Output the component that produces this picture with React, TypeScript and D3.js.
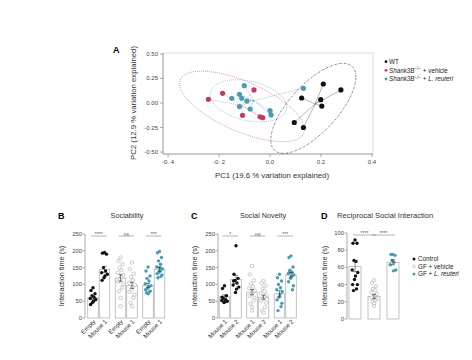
import React from "react";
import * as d3 from "d3";

// ---------- Panel A data (PCA) ----------
const wtPC1 = [0.209, 0.278, 0.124, 0.199, 0.203, 0.095, 0.131];
const wtPC2 = [0.194, 0.133, 0.051, 0.034, -0.031, -0.199, -0.25];
const vehPC1 = [-0.242, -0.186, -0.063, -0.108, -0.039, -0.029];
const vehPC2 = [0.038, 0.099, 0.133, -0.126, -0.14, -0.15];
const reuPC1 = [-0.101, -0.15, -0.12, -0.111, -0.091, -0.12, -0.078, 0.0, 0.004, 0.131];
const reuPC2 = [0.177, 0.048, 0.089, 0.048, 0.02, -0.036, -0.061, -0.077, -0.122, 0.15];
// ellipse params: [cx, cy, halfX, halfY, corr]
const wtEllipse = [0.17, -0.054, 0.167, 0.459, 0.7];
const vehEllipse = [-0.11, -0.035, 0.245, 0.36, -0.65];
const reuEllipse = [-0.085, 0.022, 0.15, 0.215, -0.3];
const pcXTicks = [-0.4, -0.2, 0.0, 0.2, 0.4];
const pcXTickLabels = ["-0. 4", "-0. 2", "0.0", "0.2", "0.4"];
const pcYTicks = [0.5, 0.25, 0, -0.25, -0.5];
const pcYTickLabels = ["0.50", "0.25", "0.00", "-0.25", "-0.50"];

// ---------- Panel B data (Sociability) ----------
const sociabilityLabels = ["Empty", "Mouse 1", "Empty", "Mouse 1", "Empty", "Mouse 1"];
const sociabilityMeans = [60, 145, 119, 97, 97, 145];
const sociabilitySEM = [5, 9, 10, 9, 6, 6];
const socWTEmpty = [90, 82, 72, 66, 62, 58, 55, 50, 46, 40];
const socWTMouse = [195, 193, 190, 150, 140, 135, 130, 125, 120, 112];
const socVehEmpty = [180, 170, 160, 150, 142, 135, 128, 122, 115, 108, 100, 90, 80, 60, 35];
const socVehMouse = [165, 145, 132, 122, 112, 105, 98, 92, 85, 78, 70, 60, 45, 35];
const socReuEmpty = [152, 140, 125, 118, 110, 102, 96, 92, 88, 84, 80, 78, 75, 72];
const socReuMouse = [198, 194, 180, 170, 160, 152, 146, 140, 136, 132, 128, 124, 120, 150];
const sociabilitySig = ["****", "ns", "***"];

// ---------- Panel C data (Social Novelty) ----------
const noveltyLabels = ["Mouse 1", "Mouse 2", "Mouse 1", "Mouse 2", "Mouse 1", "Mouse 2"];
const noveltyMeans = [63, 115, 77, 62, 72, 128];
const noveltySEM = [6, 12, 8, 6, 9, 7];
const novWTM1 = [96, 88, 66, 58, 55, 52, 50, 48, 46, 62];
const novWTM2 = [215, 130, 118, 112, 104, 98, 92, 86, 76, 110];
const novVehM1 = [155, 130, 112, 102, 94, 88, 82, 78, 72, 66, 60, 52, 42, 32, 22];
const novVehM2 = [110, 104, 96, 88, 80, 74, 68, 62, 57, 52, 46, 32, 22, 16];
const novReuM1 = [130, 120, 110, 100, 90, 84, 78, 70, 62, 54, 44, 34, 22];
const novReuM2 = [185, 180, 152, 142, 136, 132, 128, 124, 118, 108, 96, 84, 138];
const noveltySig = ["*", "ns", "***"];

// ---------- Panel D data (Reciprocal Social Interaction) ----------
const rsiLabels = ["Control", "GF + vehicle", "GF + L. reuteri"];
const rsiMeans = [61, 26, 66];
const rsiSEM = [6, 2.5, 3];
const rsiControl = [92, 88, 88, 68, 67, 57, 54, 50, 46, 40, 40, 35, 33];
const rsiVehicle = [45, 42, 38, 35, 33, 31, 29, 27, 26, 25, 23, 22, 20, 18, 15];
const rsiReuteri = [75, 75, 74, 68, 66, 63, 57, 56];
const rsiSig = ["****", "****"];

const PINK = "#c23b62";
const TEAL = "#4a9db2";
const FONT = "Liberation Sans, Arial, sans-serif";
const AXIS = "#888";

function jitter(i: number) {
  const pattern = [0, -2, 2, -1, 1, -2.8, 2.8, 0.5, -0.5, -2.4, 2.4, 1.5, -1.5, 0.2];
  return pattern[i % pattern.length];
}

function ellipsePath(p: number[], xs: any, ys: any) {
  const [cx, cy, ax, ay, r] = p;
  const pts: [number, number][] = d3.range(0, 361, 3).map((deg) => {
    const t = (deg * Math.PI) / 180;
    const x = cx + ax * Math.cos(t);
    const y = cy + ay * (r * Math.cos(t) + Math.sqrt(1 - r * r) * Math.sin(t));
    return [xs(x), ys(y)];
  });
  return d3.line()(pts) || "";
}

function PanelA() {
  const xs = d3.scaleLinear().domain([-0.42, 0.404]).range([163, 373]);
  const ys = d3.scaleLinear().domain([-0.52, 0.51]).range([154, 53]);
  const groups = [
    { xsv: vehPC1, ysv: vehPC2, color: PINK, ell: vehEllipse, dash: "1,1", spider: PINK, sdash: "1,1" },
    { xsv: reuPC1, ysv: reuPC2, color: TEAL, ell: reuEllipse, dash: "1,1", spider: TEAL, sdash: "1.5,1" },
    { xsv: wtPC1, ysv: wtPC2, color: "#111", ell: wtEllipse, dash: "2,1,0.6,1", spider: "#555", sdash: "" },
  ];
  return (
    <g fontFamily={FONT}>
      <text x={113} y={53} fontSize={9} fontWeight="bold">A</text>
      <rect x={163} y={53} width={210} height={101} fill="none" stroke="#d4d4d4" strokeWidth={0.8} />
      <line x1={163} x2={163} y1={53} y2={154} stroke={AXIS} strokeWidth={0.7} />
      <line x1={163} x2={373} y1={154} y2={154} stroke={AXIS} strokeWidth={0.7} />
      {pcYTicks.map((t, i) => (
        <g key={"y" + i}>
          <line x1={160} x2={163} y1={ys(t)} y2={ys(t)} stroke={AXIS} strokeWidth={0.7} />
          <text x={158} y={ys(t) + 2} fontSize={6} textAnchor="end" fill="#444">{pcYTickLabels[i]}</text>
        </g>
      ))}
      {pcXTicks.map((t, i) => (
        <g key={"x" + i}>
          <line x1={xs(t)} x2={xs(t)} y1={154} y2={157} stroke={AXIS} strokeWidth={0.7} />
          <text x={xs(t)} y={164} fontSize={6} textAnchor="middle" fill="#444">{pcXTickLabels[i]}</text>
        </g>
      ))}
      <text x={272} y={178} fontSize={7.8} textAnchor="middle" fill="#333">PC1 (19.6 % variation explained)</text>
      <text transform="translate(136,103) rotate(-90)" fontSize={7.8} textAnchor="middle" fill="#333">PC2 (12.9 % variation explained)</text>
      {groups.map((g, gi) => {
        const mx = d3.mean(g.xsv) as number;
        const my = d3.mean(g.ysv) as number;
        return (
          <g key={gi}>
            <path d={ellipsePath(g.ell, xs, ys)} fill="none" stroke={g.color} strokeOpacity={0.75} strokeWidth={0.7} strokeDasharray={g.dash} />
            {g.xsv.map((v, i) => (
              <line key={"s" + i} x1={xs(mx)} y1={ys(my)} x2={xs(v)} y2={ys(g.ysv[i])} stroke={g.spider} strokeOpacity={0.7} strokeWidth={0.6} strokeDasharray={g.sdash} />
            ))}
          </g>
        );
      })}
      {groups.map((g, gi) => (
        <g key={"p" + gi}>
          {g.xsv.map((v, i) => (
            <circle key={i} cx={xs(v)} cy={ys(g.ysv[i])} r={2.6} fill={g.color} />
          ))}
        </g>
      ))}
      <g fontSize={6.3} fill="#222">
        <circle cx={386} cy={61.7} r={1.4} fill="#111" />
        <text x={389} y={64}>WT</text>
        <circle cx={386} cy={70.3} r={1.4} fill={PINK} />
        <text x={389} y={72.6}>
          <tspan fontStyle="italic">Shank3B</tspan>
          <tspan dy={-2.2} fontSize={4.5}>−/−</tspan>
          <tspan dy={2.2}> + vehicle</tspan>
        </text>
        <circle cx={386} cy={79} r={1.4} fill={TEAL} />
        <text x={389} y={81.3}>
          <tspan fontStyle="italic">Shank3B</tspan>
          <tspan dy={-2.2} fontSize={4.5}>−/−</tspan>
          <tspan dy={2.2}> + </tspan>
          <tspan fontStyle="italic">L. reuteri</tspan>
        </text>
      </g>
    </g>
  );
}

type Series = { values: number[]; kind: "black" | "open" | "teal" };

function dot(kind: string, cx: number, cy: number, key: any, r = 1.7) {
  if (kind === "open")
    return <circle key={key} cx={cx} cy={cy} r={r} fill="#fff" stroke="#999" strokeWidth={0.5} />;
  return <circle key={key} cx={cx} cy={cy} r={r} fill={kind === "black" ? "#111" : TEAL} />;
}

function BarPanel(props: {
  letter: string; title: string; titleX: number; titleAnchor: string; letterX: number;
  axisX: number; centers: number[]; barW: number; yMax: number; yTicks: number[];
  y0: number; yTop: number; means: number[]; sems: number[]; series: Series[];
  labels: string[]; sig: string[]; sigPairs: [number, number][]; ylabelX: number; rotateLabels: boolean;
  titleSize: number;
}) {
  const p = props;
  const ys = d3.scaleLinear().domain([0, p.yMax]).range([p.y0, p.yTop]);
  return (
    <g fontFamily={FONT}>
      <text x={p.letterX} y={219} fontSize={9} fontWeight="bold">{p.letter}</text>
      <text x={p.titleX} y={218} fontSize={p.titleSize} textAnchor={p.titleAnchor as any} fill="#333">{p.title}</text>
      <text transform={`translate(${p.ylabelX},${(p.y0 + p.yTop) / 2}) rotate(-90)`} fontSize={7.3} textAnchor="middle" fill="#333">Interaction time (s)</text>
      <line x1={p.axisX} x2={p.axisX} y1={p.y0} y2={p.yTop} stroke={AXIS} strokeWidth={0.7} />
      {p.yTicks.map((t) => (
        <g key={t}>
          <line x1={p.axisX - 2.5} x2={p.axisX} y1={ys(t)} y2={ys(t)} stroke={AXIS} strokeWidth={0.7} />
          <text x={p.axisX - 3} y={ys(t) + 2} fontSize={5.8} textAnchor="end" fill="#444">{t}</text>
        </g>
      ))}
      {p.centers.map((c, i) => (
        <rect key={"b" + i} x={c - p.barW / 2} y={ys(p.means[i])} width={p.barW} height={p.y0 - ys(p.means[i])} fill="#fff" stroke="#aaa" strokeWidth={0.7} />
      ))}
      {p.series.map((s, i) =>
        s.values.map((v, j) => dot(s.kind, p.centers[i] + jitter(j), ys(v), i + "-" + j))
      )}
      {p.centers.map((c, i) => (
        <g key={"e" + i} stroke="#333" strokeWidth={0.6}>
          <line x1={c} x2={c} y1={ys(p.means[i] - p.sems[i])} y2={ys(p.means[i] + p.sems[i])} />
          <line x1={c - 2} x2={c + 2} y1={ys(p.means[i] + p.sems[i])} y2={ys(p.means[i] + p.sems[i])} />
          <line x1={c - 2} x2={c + 2} y1={ys(p.means[i] - p.sems[i])} y2={ys(p.means[i] - p.sems[i])} />
        </g>
      ))}
      {p.sigPairs.map(([a, b], i) => (
        <g key={"s" + i}>
          <line x1={p.centers[a] - 2} x2={p.centers[b] + 2} y1={p.yTop + 2} y2={p.yTop + 2} stroke="#666" strokeWidth={0.5} />
          <text x={(p.centers[a] + p.centers[b]) / 2} y={p.yTop + 1.5} fontSize={5} textAnchor="middle" fill="#555">{p.sig[i]}</text>
        </g>
      ))}
      {p.rotateLabels && p.labels.map((l, i) => (
        <text key={"l" + i} transform={`translate(${p.centers[i] + 3},${p.y0 + 4}) rotate(-45)`} fontSize={6.2} textAnchor="end" fill="#333">{l}</text>
      ))}
    </g>
  );
}

export default function App() {
  const bCenters = [0, 1, 2, 3, 4, 5].map((i) => 93 + Math.floor(i / 2) * 27.5 + (i % 2) * 11.5);
  const cCenters = [0, 1, 2, 3, 4, 5].map((i) => 224.5 + Math.floor(i / 2) * 27.5 + (i % 2) * 11.5);
  const dCenters = [0, 1, 2].map((i) => 355 + i * 19);
  return (
    <svg width={472} height={360} style={{ position: "absolute", left: 0, top: 0 }}>
      <rect width={472} height={360} fill="#fff" />
      <PanelA />
      <BarPanel letter="B" title="Sociability" titleX={127} titleAnchor="middle" letterX={58}
        axisX={85} centers={bCenters} barW={10.5} yMax={250} yTicks={[0, 50, 100, 150, 200, 250]}
        y0={318} yTop={234} means={sociabilityMeans} sems={sociabilitySEM}
        series={[
          { values: socWTEmpty, kind: "black" }, { values: socWTMouse, kind: "black" },
          { values: socVehEmpty, kind: "open" }, { values: socVehMouse, kind: "open" },
          { values: socReuEmpty, kind: "teal" }, { values: socReuMouse, kind: "teal" },
        ]}
        labels={sociabilityLabels} sig={sociabilitySig} sigPairs={[[0, 1], [2, 3], [4, 5]]} ylabelX={64} rotateLabels={true} titleSize={7.3} />
      <BarPanel letter="C" title="Social Novelty" titleX={263} titleAnchor="middle" letterX={191}
        axisX={218} centers={cCenters} barW={10.5} yMax={250} yTicks={[0, 50, 100, 150, 200, 250]}
        y0={318} yTop={234} means={noveltyMeans} sems={noveltySEM}
        series={[
          { values: novWTM1, kind: "black" }, { values: novWTM2, kind: "black" },
          { values: novVehM1, kind: "open" }, { values: novVehM2, kind: "open" },
          { values: novReuM1, kind: "teal" }, { values: novReuM2, kind: "teal" },
        ]}
        labels={noveltyLabels} sig={noveltySig} sigPairs={[[0, 1], [2, 3], [4, 5]]} ylabelX={197} rotateLabels={true} titleSize={7.3} />
      <BarPanel letter="D" title="Reciprocal Social Interaction" titleX={337} titleAnchor="start" letterX={321}
        axisX={347} centers={dCenters} barW={12} yMax={100} yTicks={[0, 20, 40, 60, 80, 100]}
        y0={319} yTop={233} means={rsiMeans} sems={rsiSEM}
        series={[
          { values: rsiControl, kind: "black" }, { values: rsiVehicle, kind: "open" }, { values: rsiReuteri, kind: "teal" },
        ]}
        labels={rsiLabels} sig={rsiSig} sigPairs={[[0, 1], [1, 2]]} ylabelX={327} rotateLabels={false} titleSize={7.6} />
      <g fontFamily={FONT} fontSize={6.3} fill="#222">
        <circle cx={414} cy={259} r={1.5} fill="#111" />
        <text x={418} y={261.2}>{rsiLabels[0]}</text>
        <circle cx={414} cy={266.5} r={1.4} fill="#fff" stroke="#999" strokeWidth={0.5} />
        <text x={418} y={268.7}>{rsiLabels[1]}</text>
        <circle cx={414} cy={274} r={1.5} fill={TEAL} />
        <text x={418} y={276.2}>GF + <tspan fontStyle="italic">L. reuteri</tspan></text>
      </g>
    </svg>
  );
}
